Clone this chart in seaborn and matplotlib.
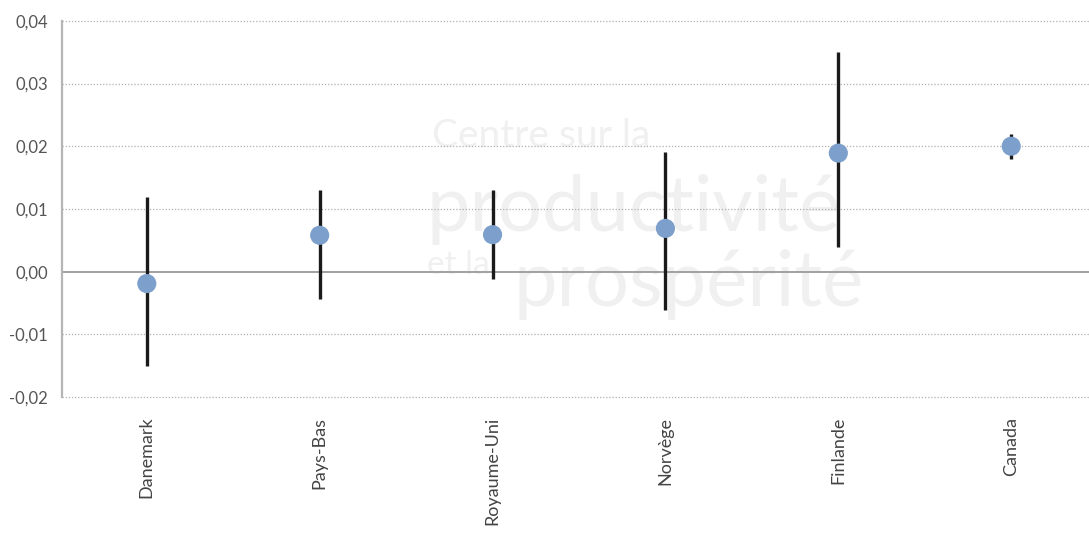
import matplotlib
matplotlib.use('Agg')
import pandas as pd
from matplotlib import pyplot as plt
import seaborn as sns

pays = ['Danemark', 'Pays-Bas', 'Royaume-Uni', 'Norvège', 'Finlande', 'Canada']
estimation = [-0.0019, 0.0058, 0.0059, 0.0069, 0.0189, 0.0200]
borne_inf = [-0.0151, -0.0043, -0.0011, -0.0061, 0.0040, 0.0179]
borne_sup = [0.0119, 0.0130, 0.0130, 0.0191, 0.0351, 0.0220]
yticks = [-0.02, -0.01, 0.00, 0.01, 0.02, 0.03, 0.04]

df = pd.DataFrame({'pays': pays, 'est': estimation, 'lo': borne_inf, 'hi': borne_sup})

sns.set_style('white')
plt.rcParams['font.family'] = ['Lato', 'DejaVu Sans']

f = plt.figure(figsize=(10.89, 5.33), dpi=100)
ax = f.add_axes([0.057, 0.255, 0.943, 0.706])

# filigrane
wm = '#f0f0f0'
ax.text(0.36, 0.645, 'Centre sur la', transform=ax.transAxes, fontsize=28, color=wm,
        va='bottom', zorder=0)
ax.text(0.355, 0.404, 'productivité', transform=ax.transAxes, fontsize=56, color=wm,
        va='bottom', zorder=0)
ax.text(0.355, 0.39, 'et la', transform=ax.transAxes, fontsize=24, color=wm,
        va='top', zorder=0)
ax.text(0.44, 0.394, 'prospérité', transform=ax.transAxes, fontsize=56, color=wm,
        va='top', zorder=0)

for y in yticks:
    if y == 0:
        ax.axhline(y, color='#9a9a9a', lw=1.3, zorder=1)
    else:
        ax.axhline(y, color='#b0b0b0', lw=0.9, ls=(0, (1, 1.5)), zorder=1, clip_on=False)

ax.vlines(df['pays'], df['lo'], df['hi'], color='#1a1a1a', lw=2.4, zorder=2)
sns.scatterplot(data=df, x='pays', y='est', color='#7c9fcb', s=190, edgecolor='none', zorder=3, ax=ax)

ax.set_xlim(-0.49, 5.45)
ax.set_ylim(-0.02, 0.04)
ax.set_yticks(yticks)
ax.set_yticklabels([f'{v:.2f}'.replace('.', ',') for v in yticks])
ax.set_xlabel('')
ax.set_ylabel('')
ax.tick_params(axis='x', rotation=90, labelsize=13, colors='#444444', length=0, pad=14)
ax.tick_params(axis='y', labelsize=12, colors='#555555', length=0, pad=10)

for s in ['top', 'right', 'bottom']:
    ax.spines[s].set_visible(False)
ax.spines['left'].set_color('#b5b5b5')
ax.spines['left'].set_linewidth(1.6)

f.savefig('out.png', dpi=100)
